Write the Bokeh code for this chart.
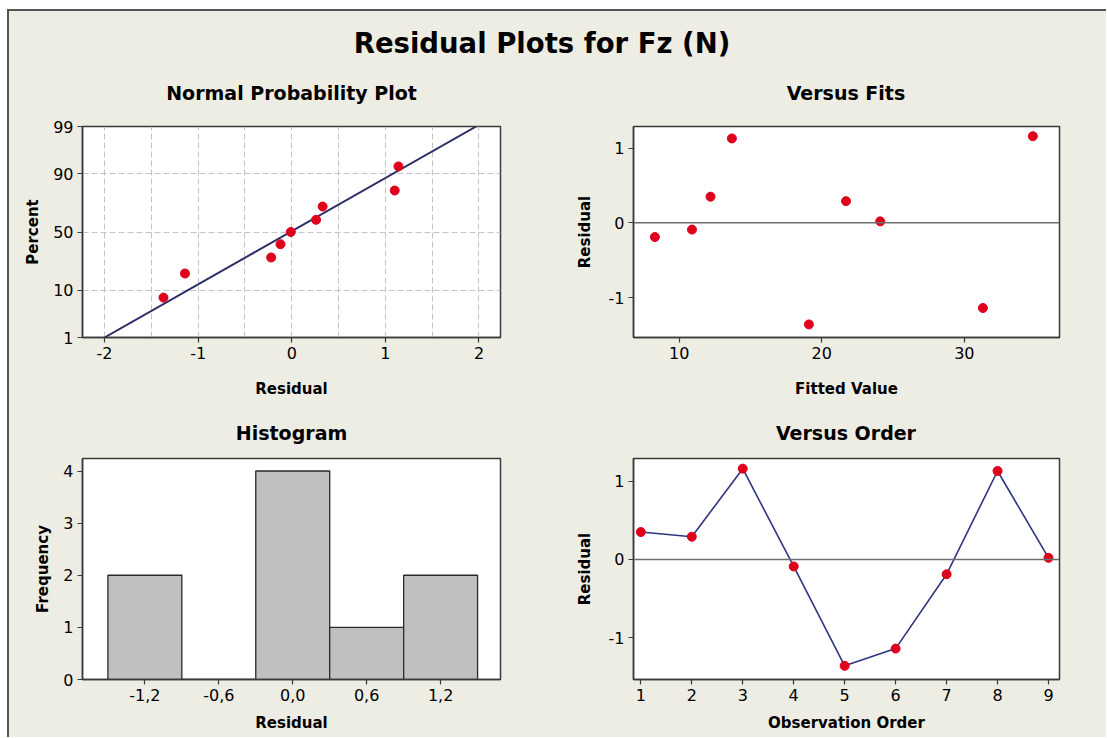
from statistics import NormalDist

from bokeh.plotting import figure
from bokeh.layouts import column, row
from bokeh.models import Range1d, FixedTicker, Span
from bokeh.core.properties import value
from bokeh.embed import file_html
from bokeh.resources import INLINE

# ---------------- data ----------------
observation_order = [1, 2, 3, 4, 5, 6, 7, 8, 9]
residuals = [0.35, 0.29, 1.16, -0.09, -1.36, -1.14, -0.19, 1.13, 0.02]
fitted_values = [12.2, 21.7, 34.8, 10.9, 19.1, 31.3, 8.3, 13.7, 24.1]

npp_residual = [-1.37, -1.14, -0.22, -0.12, -0.01, 0.26, 0.33, 1.10, 1.14]
npp_percent = [7.4, 18.0, 28.7, 39.4, 50.0, 60.6, 71.3, 82.0, 92.6]
fit_line_residual = [-2.0, 1.97]
fit_line_percent = [1, 99]
percent_ticks = [1, 10, 50, 90, 99]
npp_x_ticks = [-2, -1, 0, 1, 2]
npp_x_grid = [-2, -1.5, -1, -0.5, 0, 0.5, 1, 1.5, 2]

fits_x_ticks = [10, 20, 30]
residual_ticks = [-1, 0, 1]

hist_bin_centers = [-1.2, -0.6, 0.0, 0.6, 1.2]
hist_counts = [2, 0, 4, 1, 2]
hist_bin_width = 0.6
hist_tick_labels = ["-1,2", "-0,6", "0,0", "0,6", "1,2"]
freq_ticks = [0, 1, 2, 3, 4]

main_title = "Residual Plots for Fz (N)"
top_titles = ["Normal Probability Plot", "Versus Fits"]
bottom_titles = ["Histogram", "Versus Order"]

# ---------------- styling ----------------
FONT = "DejaVu Sans"
BG = "#eeede4"
FRAME = "#3a3a3a"
RED = "#e0001b"
NAVY = "#2f3580"
LEFT_W = 546
RIGHT_W = 551
TOTAL_W = LEFT_W + RIGHT_W
TITLE_X = [0.2571, 0.7625]   # centres of the left / right plot frames

nd = NormalDist()


def hyphen_labels(ticks):
    return {t: str(t) for t in ticks}


def strip(h):
    s = figure(width=TOTAL_W, height=h, x_range=Range1d(0, 1), y_range=Range1d(0, 1),
               output_backend="svg", toolbar_location=None, min_border=0,
               x_axis_type=None, y_axis_type=None,
               outline_line_color=None, background_fill_color=BG, border_fill_color=BG)
    s.grid.visible = False
    return s


def panel(w, h, left, right, top, bottom, xr, yr, xlabel, ylabel,
          xlabel_standoff, ylabel_standoff):
    p = figure(width=w, height=h, x_range=xr, y_range=yr,
               output_backend="svg", toolbar_location=None,
               min_border_left=left, min_border_right=right,
               min_border_top=top, min_border_bottom=bottom,
               background_fill_color="white", border_fill_color=BG,
               outline_line_color=FRAME, outline_line_width=1.5)
    for ax in (p.xaxis[0], p.yaxis[0]):
        ax.axis_line_color = FRAME
        ax.axis_line_width = 1.5
        ax.major_tick_line_color = FRAME
        ax.major_tick_line_width = 1.2
        ax.major_tick_out = 5
        ax.major_tick_in = 0
        ax.minor_tick_line_color = None
        ax.major_label_text_font = FONT
        ax.major_label_text_font_size = "16px"
        ax.major_label_text_color = "black"
        ax.major_label_standoff = 4
        ax.axis_label_text_font = FONT
        ax.axis_label_text_font_size = "15px"
        ax.axis_label_text_font_style = "bold"
        ax.axis_label_text_color = "black"
    p.xaxis[0].axis_label = xlabel
    p.yaxis[0].axis_label = ylabel
    p.xaxis[0].axis_label_standoff = xlabel_standoff
    p.yaxis[0].axis_label_standoff = ylabel_standoff
    p.grid.visible = False
    return p


# ---------------- strip with main title + top panel titles ----------------
s1 = strip(94)
s1.text(x=[0.4854], y=[0.670], text=[main_title],
        text_align="center", text_baseline="middle",
        text_font=value(FONT), text_font_size="27.5px", text_font_style="bold",
        text_color="black")
s1.text(x=TITLE_X, y=[0.128, 0.128], text=top_titles,
        text_align="center", text_baseline="middle",
        text_font=value(FONT), text_font_size="19px", text_font_style="bold",
        text_color="black")

# ---------------- Normal probability plot ----------------
zlim = nd.inv_cdf(0.99)
p1 = panel(LEFT_W, 296, 73, 55, 21, 64,
           Range1d(-2.235, 2.23), Range1d(-zlim, zlim),
           "Residual", "Percent", 18, 8)
pct_z = [nd.inv_cdf(v / 100) for v in percent_ticks]
p1.yaxis[0].ticker = FixedTicker(ticks=pct_z)
p1.yaxis[0].major_label_overrides = {z: str(v) for z, v in zip(pct_z, percent_ticks)}
p1.xaxis[0].ticker = FixedTicker(ticks=npp_x_ticks)
p1.xaxis[0].major_label_overrides = hyphen_labels(npp_x_ticks)
p1.xgrid.visible = True
p1.ygrid.visible = True
p1.xgrid.ticker = FixedTicker(ticks=npp_x_grid)
p1.ygrid.ticker = FixedTicker(ticks=pct_z)
for g in (p1.xgrid[0], p1.ygrid[0]):
    g.grid_line_color = "#c4c4c4"
    g.grid_line_dash = "6 3"
    g.grid_line_width = 1
p1.line(fit_line_residual, [nd.inv_cdf(v / 100) for v in fit_line_percent],
        line_color="#2a2d66", line_width=2)
p1.scatter(npp_residual, [nd.inv_cdf(v / 100) for v in npp_percent],
           size=9, fill_color=RED, line_color=RED)

# ---------------- Versus fits ----------------
p2 = panel(RIGHT_W, 296, 78, 47, 21, 64,
           Range1d(6.8, 36.67), Range1d(-1.535, 1.29),
           "Fitted Value", "Residual", 18, 12)
p2.xaxis[0].ticker = FixedTicker(ticks=fits_x_ticks)
p2.yaxis[0].ticker = FixedTicker(ticks=residual_ticks)
p2.yaxis[0].major_label_overrides = hyphen_labels(residual_ticks)
p2.add_layout(Span(location=0, dimension="width", line_color="#6e6e6e", line_width=1.5))
p2.scatter(fitted_values, residuals, size=9, fill_color=RED, line_color=RED)

# ---------------- strip with bottom panel titles ----------------
s2 = strip(51)
s2.text(x=TITLE_X, y=[0.373, 0.373], text=bottom_titles,
        text_align="center", text_baseline="middle",
        text_font=value(FONT), text_font_size="19px", text_font_style="bold",
        text_color="black")

# ---------------- Histogram ----------------
p3 = panel(LEFT_W, 285, 73, 55, 6, 58,
           Range1d(-1.706, 1.686), Range1d(0, 4.24),
           "Residual", "Frequency", 10, 8)
p3.xaxis[0].ticker = FixedTicker(ticks=hist_bin_centers)
p3.xaxis[0].major_label_overrides = {c: s for c, s in zip(hist_bin_centers, hist_tick_labels)}
p3.yaxis[0].ticker = FixedTicker(ticks=freq_ticks)
p3.vbar(x=hist_bin_centers, top=hist_counts, width=hist_bin_width, bottom=0,
        fill_color="#c0c0c0", line_color="#2a2a2a", line_width=1.3)

# ---------------- Versus order ----------------
p4 = panel(RIGHT_W, 285, 78, 47, 6, 58,
           Range1d(0.856, 9.216), Range1d(-1.535, 1.29),
           "Observation Order", "Residual", 10, 12)
p4.xaxis[0].ticker = FixedTicker(ticks=observation_order)
p4.yaxis[0].ticker = FixedTicker(ticks=residual_ticks)
p4.yaxis[0].major_label_overrides = hyphen_labels(residual_ticks)
p4.add_layout(Span(location=0, dimension="width", line_color="#6e6e6e", line_width=1.5))
p4.line(observation_order, residuals, line_color=NAVY, line_width=1.6)
p4.scatter(observation_order, residuals, size=9, fill_color=RED, line_color=RED)

layout = column(s1, row(p1, p2, spacing=0), s2, row(p3, p4, spacing=0), spacing=0,
                margin=(9, 0, 0, 7),
                styles={"border-left": "2px solid #555555",
                        "border-top": "2px solid #555555",
                        "background-color": BG})

open("out.html", "w").write(file_html(layout, INLINE))
